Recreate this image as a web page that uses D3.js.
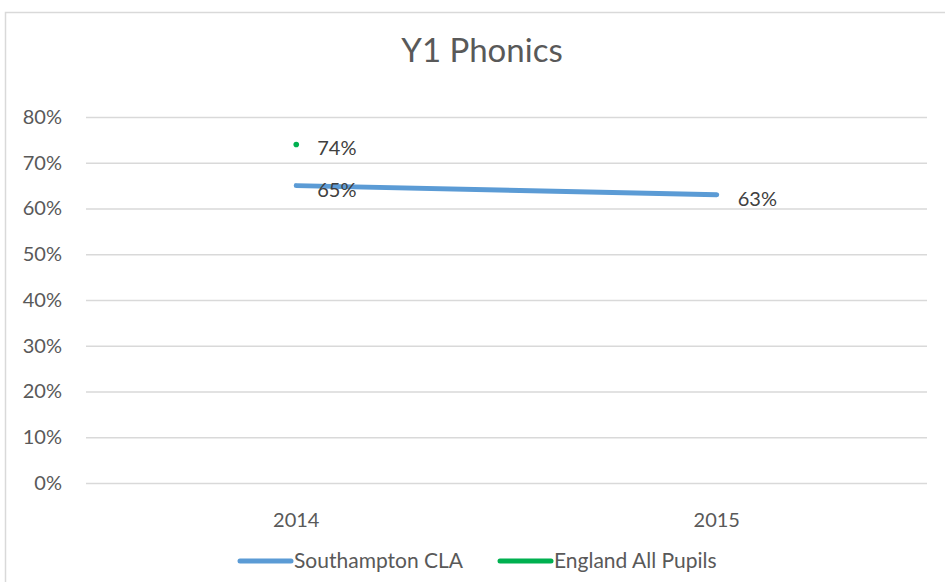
<!DOCTYPE html>
<html>
<head>
<meta charset="utf-8">
<script src="https://cdn.jsdelivr.net/npm/d3@7"></script>
<style>
  body { margin: 0; background: #fff; }
  svg { display: block; font-family: Lato, "Open Sans", sans-serif; }
</style>
</head>
<body>
<div id="chart"></div>
<script>
// data
var years = ["2014", "2015"];
var southampton = [0.65, 0.63];
var england = [0.74, null];
var yTicks = [0, 0.1, 0.2, 0.3, 0.4, 0.5, 0.6, 0.7, 0.8];
var seriesNames = ["Southampton CLA", "England All Pupils"];
var seriesColors = ["#5b9bd5", "#00b050"];

var totalWidth = 945, totalHeight = 582;
var margin = { top: 117, right: 18, bottom: 99, left: 86 },
    width = totalWidth - margin.left - margin.right,
    height = totalHeight - margin.top - margin.bottom;

var outer = d3.select("#chart").append("svg")
    .attr("width", totalWidth)
    .attr("height", totalHeight);

// chart area border (right and bottom edges fall outside the window)
outer.append("rect")
    .attr("x", 5.5).attr("y", 12.5)
    .attr("width", 1000).attr("height", 1000)
    .attr("fill", "none")
    .attr("stroke", "#d9d9d9")
    .attr("stroke-width", 1.5);

outer.append("text")
    .attr("x", 482).attr("y", 62)
    .attr("text-anchor", "middle")
    .attr("fill", "#595959")
    .style("font-size", "33px")
    .text("Y1 Phonics");

var svg = outer.append("g")
    .attr("transform", "translate(" + margin.left + "," + margin.top + ")");

var x = d3.scaleBand().domain(years).range([0, width]);
var y = d3.scaleLinear().domain([0, 0.8]).range([height, 0]);

// gridlines + y labels
var yAxis = d3.axisLeft(y)
    .tickValues(yTicks)
    .tickFormat(d3.format(".0%"))
    .tickSize(-width)
    .tickPadding(24);

svg.append("g")
    .attr("class", "yAxis")
    .call(yAxis)
    .call(g => g.select(".domain").remove())
    .call(g => g.selectAll("line").attr("stroke", "#d9d9d9").attr("stroke-width", 1.5))
    .call(g => g.selectAll("text")
        .attr("fill", "#595959")
        .style("font-size", "20px")
        .style("font-family", "Lato, 'Open Sans', sans-serif"));

var xAxis = d3.axisBottom(x).tickSize(0).tickPadding(30);
svg.append("g")
    .attr("class", "xAxis")
    .attr("transform", "translate(0," + height + ")")
    .call(xAxis)
    .call(g => g.select(".domain").remove())
    .call(g => g.selectAll("text")
        .attr("fill", "#595959")
        .style("font-size", "20px")
        .style("font-family", "Lato, 'Open Sans', sans-serif"));

var cx = d => x(d) + x.bandwidth() / 2;

// Southampton line
var line = d3.line()
    .defined(d => d.v != null)
    .x(d => cx(d.year))
    .y(d => y(d.v));

var sData = years.map((yr, i) => ({ year: yr, v: southampton[i] }));
var eData = years.map((yr, i) => ({ year: yr, v: england[i] }));

svg.append("path")
    .datum(sData)
    .attr("d", line)
    .attr("fill", "none")
    .attr("stroke", seriesColors[0])
    .attr("stroke-width", 5)
    .attr("stroke-linecap", "round");

// England has a single point
svg.selectAll(".engPoint")
    .data(eData.filter(d => d.v != null))
    .enter().append("circle")
    .attr("class", "engPoint")
    .attr("cx", d => cx(d.year))
    .attr("cy", d => y(d.v))
    .attr("r", 2.8)
    .attr("fill", seriesColors[1]);

// data labels
var labels = sData.concat(eData).filter(d => d.v != null);
svg.selectAll(".dataLabel")
    .data(labels)
    .enter().append("text")
    .attr("class", "dataLabel")
    .attr("x", d => cx(d.year) + 21)
    .attr("y", d => y(d.v) + 11)
    .attr("fill", "#404040")
    .style("font-size", "20px")
    .text(d => d3.format(".0%")(d.v));

// legend
var legendX = [240, 500];
var legend = outer.selectAll(".legendEntry")
    .data(seriesNames)
    .enter().append("g")
    .attr("class", "legendEntry")
    .attr("transform", (d, i) => "translate(" + legendX[i] + ",561)");

legend.append("line")
    .attr("x1", 0).attr("x2", 51)
    .attr("y1", 0).attr("y2", 0)
    .attr("stroke", (d, i) => seriesColors[i])
    .attr("stroke-width", 5)
    .attr("stroke-linecap", "round");

legend.append("text")
    .attr("x", 54).attr("y", 7)
    .attr("fill", "#595959")
    .style("font-size", "21px")
    .text(d => d);
</script>
</body>
</html>
